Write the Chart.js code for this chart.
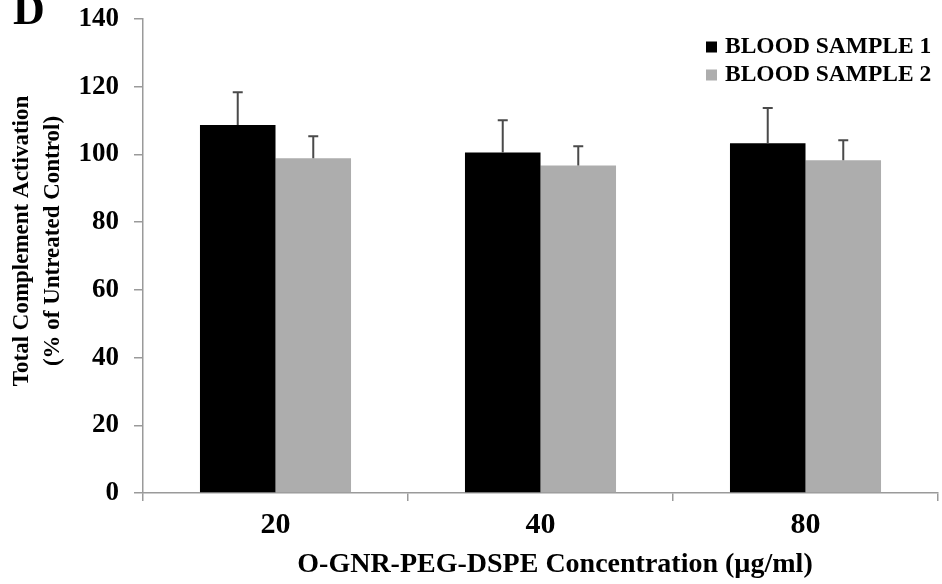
<!DOCTYPE html>
<html><head><meta charset="utf-8">
<script src="https://cdn.jsdelivr.net/npm/chart.js@4/dist/chart.umd.min.js"></script>
<style>html,body{margin:0;padding:0;background:#fff}#wrap{width:942px;height:584px;position:relative}</style>
</head><body><div id="wrap"><canvas id="c" width="942" height="584"></canvas></div>
<script>
const categories = ['20', '40', '80'];
const seriesNames = ['BLOOD SAMPLE 1', 'BLOOD SAMPLE 2'];
const sample1 = [108.7, 100.6, 103.3];
const sample1Err = [9.7, 9.5, 10.4];
const sample2 = [98.9, 96.7, 98.3];
const sample2Err = [6.5, 5.7, 5.9];
const yTicks = [0, 20, 40, 60, 80, 100, 120, 140];
const xTitle = 'O-GNR-PEG-DSPE Concentration (µg/ml)';
const yTitle = ['Total Complement Activation', '(% of Untreated Control)'];
const panelLabel = 'D';

const FONT = "'Liberation Serif', 'Times New Roman', serif";
const seriesColors = ['#000000', '#adadad'];
const errors = [sample1Err, sample2Err];

const extras = {
  id: 'extras',
  afterDatasetsDraw(chart) {
    const ctx = chart.ctx;
    const ys = chart.scales.y;
    ctx.save();
    ctx.strokeStyle = '#4a4a4a';
    ctx.lineWidth = 2;
    chart.data.datasets.forEach((ds, i) => {
      const meta = chart.getDatasetMeta(i);
      meta.data.forEach((el, j) => {
        const top = ys.getPixelForValue(ds.data[j] + errors[i][j]);
        ctx.beginPath();
        ctx.moveTo(el.x, el.y);
        ctx.lineTo(el.x, top);
        ctx.moveTo(el.x - 5, top);
        ctx.lineTo(el.x + 5, top);
        ctx.stroke();
      });
    });
    ctx.restore();
  },
  afterDraw(chart) {
    const ctx = chart.ctx;
    ctx.save();
    ctx.fillStyle = '#000';
    // panel label
    ctx.font = "bold 44px " + FONT;
    ctx.textAlign = 'left';
    ctx.textBaseline = 'alphabetic';
    ctx.fillText(panelLabel, 13, 24);
    // legend
    ctx.font = "bold 23.5px " + FONT;
    ctx.textBaseline = 'middle';
    chart.data.datasets.forEach((ds, i) => {
      const cy = 47 + i * 28;
      ctx.fillStyle = seriesColors[i];
      ctx.fillRect(706, cy - 5.5, 11, 11);
      ctx.fillStyle = '#000';
      ctx.fillText(ds.label, 725, cy);
    });
    // x title
    ctx.font = "bold 28px " + FONT;
    ctx.textAlign = 'center';
    ctx.fillText(xTitle, 555, 565);
    // y title
    ctx.font = "bold 23px " + FONT;
    ctx.translate(0, 241);
    ctx.rotate(-Math.PI / 2);
    ctx.fillText(yTitle[0], 0, 22);
    ctx.fillText(yTitle[1], 0, 53);
    ctx.restore();
  }
};

new Chart(document.getElementById('c'), {
  type: 'bar',
  data: {
    labels: categories,
    datasets: [
      { label: seriesNames[0], data: sample1, backgroundColor: seriesColors[0], borderWidth: 0 },
      { label: seriesNames[1], data: sample2, backgroundColor: seriesColors[1], borderWidth: 0 }
    ]
  },
  options: {
    responsive: false,
    animation: false,
    devicePixelRatio: 1,
    layout: { padding: { top: 19, right: 4, left: 0, bottom: 0 } },
    categoryPercentage: 0.57,
    barPercentage: 1.0,
    plugins: { legend: { display: false }, tooltip: { enabled: false } },
    scales: {
      y: {
        min: 0, max: 140,
        afterBuildTicks: s => { s.ticks = yTicks.map(v => ({ value: v })); },
        afterFit: s => { s.width = 143; s.paddingTop = 0; s.paddingBottom = 0; },
        ticks: { font: { family: FONT, weight: 'bold', size: 27 }, color: '#000', padding: 15 },
        grid: { drawOnChartArea: false, tickLength: 9, color: '#9a9a9a', lineWidth: 1.5 },
        border: { color: '#9a9a9a', width: 1.5 }
      },
      x: {
        afterFit: s => { s.height = 91; s.paddingLeft = 0; s.paddingRight = 0; },
        ticks: { font: { family: FONT, weight: 'bold', size: 30 }, color: '#000', padding: 6 },
        grid: { offset: true, drawOnChartArea: false, tickLength: 8, color: '#9a9a9a', lineWidth: 1.5 },
        border: { color: '#9a9a9a', width: 1.5 }
      }
    }
  },
  plugins: [extras]
});
</script></body></html>
